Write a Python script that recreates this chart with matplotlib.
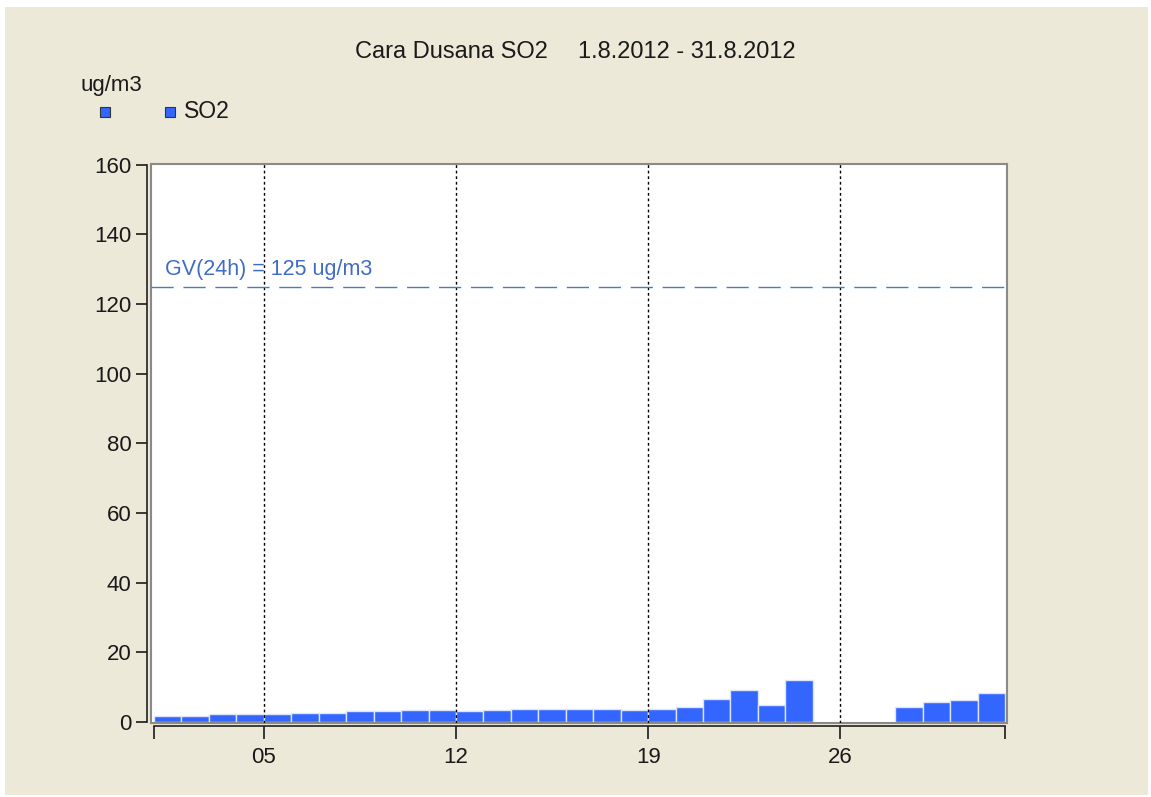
import numpy as np
import matplotlib
matplotlib.use("Agg")
import matplotlib.pyplot as plt
from matplotlib.patches import Rectangle

plt.rcParams['font.family'] = ['Liberation Sans', 'DejaVu Sans']

days = list(range(1, 32))
so2 = [1.6, 1.6, 2.2, 2.2, 2.2, 2.6, 2.6, 3.1, 3.1, 3.4,
       3.4, 3.1, 3.4, 3.8, 3.8, 3.7, 3.7, 3.4, 3.7, 4.2,
       6.6, 9.1, 5.0, 12.0, None, None, None, 4.2, 5.8, 6.2, 8.2]
limit_value = 125
limit_label = "GV(24h) = 125 ug/m3"
xtick_days = [5, 12, 19, 26]
xtick_labels = ["05", "12", "19", "26"]
yticks = [0, 20, 40, 60, 80, 100, 120, 140, 160]
title_station = "Cara Dusana SO2"
title_period = "1.8.2012 - 31.8.2012"
unit = "ug/m3"
series_name = "SO2"

BEIGE = "#ECE9D8"
BAR = "#3366FF"
TXT = "#1A1A1A"

fig = plt.figure(figsize=(11.51, 7.97), dpi=100)
fig.patch.set_facecolor("white")
fig.patches.append(Rectangle((5/1151, 2/797), 1143/1151, 788/797,
                             transform=fig.transFigure, facecolor=BEIGE,
                             edgecolor="none", zorder=-10))

ax = fig.add_axes([151/1151, 1 - 723/797, 856/1151, 559/797])
ax.set_facecolor("white")

xs = [d for d, v in zip(days, so2) if v is not None]
vs = [v for v in so2 if v is not None]
ax.bar(xs, vs, width=1.0, align="edge", color=BAR, edgecolor="#DDE4F5",
       linewidth=1.0, zorder=2)

ax.set_xlim(1 - 3/27.5, 32 + 2/27.5)
ax.set_ylim(-0.3, 160.2)

# vertical dotted grid lines
for d in xtick_days:
    ax.axvline(d, color="black", linestyle=(0, (2, 2)), linewidth=1.0, zorder=3)

# limit line
ax.axhline(limit_value, color="#4A7CC0", linestyle=(0, (16, 7)), linewidth=1.0, zorder=3)
ax.text(14/856, 0.793, limit_label, transform=ax.transAxes, color="#3F6CC8",
        fontsize=15.5, ha="left", va="bottom", zorder=4)

# frame (sunken gray box)
for s in ax.spines.values():
    s.set_color("#8A8A8A")
    s.set_linewidth(1.5)

# separate black y axis
axy = ax.twinx()
axy.set_ylim(ax.get_ylim())
axy.patch.set_visible(False)
for s in axy.spines.values():
    s.set_visible(False)
axy.yaxis.set_ticks_position("left")
axy.spines["left"].set_visible(True)
axy.spines["left"].set_position(("outward", 3))
axy.spines["left"].set_color("#202020")
axy.spines["left"].set_linewidth(1.2)
axy.spines["left"].set_bounds(0, 160)
axy.set_yticks(yticks)
axy.set_yticklabels([str(t) for t in yticks])
axy.tick_params(axis="y", direction="out", length=8, width=1.2, pad=3,
                labelsize=16, colors=TXT, labelleft=True, labelright=False)

ax.set_yticks([])
ax.set_xticks([])

# separate black x axis
axx = ax.twiny()
axx.set_xlim(ax.get_xlim())
axx.patch.set_visible(False)
for s in axx.spines.values():
    s.set_visible(False)
axx.xaxis.set_ticks_position("bottom")
axx.spines["bottom"].set_visible(True)
axx.spines["bottom"].set_position(("outward", 2))
axx.spines["bottom"].set_color("#202020")
axx.spines["bottom"].set_linewidth(1.2)
axx.spines["bottom"].set_bounds(1, 32)
axx.set_xticks([1] + xtick_days + [32])
axx.set_xticklabels([""] + xtick_labels + [""])
axx.tick_params(axis="x", direction="out", length=9, width=1.2, pad=6,
                labelsize=16, colors=TXT, labelbottom=True, labeltop=False)

# title and unit
fig.text(548/1151, 1 - 52/797, title_station, ha="right", va="center", fontsize=17, color=TXT)
fig.text(578/1151, 1 - 52/797, title_period, ha="left", va="center", fontsize=17, color=TXT)
fig.text(80/1151, 1 - 85/797, unit, ha="left", va="center", fontsize=16, color=TXT)

# legend markers
fig.patches.append(Rectangle((100/1151, 1 - 117/797), 10/1151, 10/797,
                             transform=fig.transFigure, facecolor=BAR,
                             edgecolor="#333333", linewidth=0.8))
fig.patches.append(Rectangle((165/1151, 1 - 117/797), 10/1151, 10/797,
                             transform=fig.transFigure, facecolor=BAR,
                             edgecolor="#333333", linewidth=0.8))
fig.text(184/1151, 1 - 112/797, series_name, ha="left", va="center",
         fontsize=16.5, color=TXT)

fig.savefig("out.png", dpi=100, facecolor=fig.get_facecolor())
